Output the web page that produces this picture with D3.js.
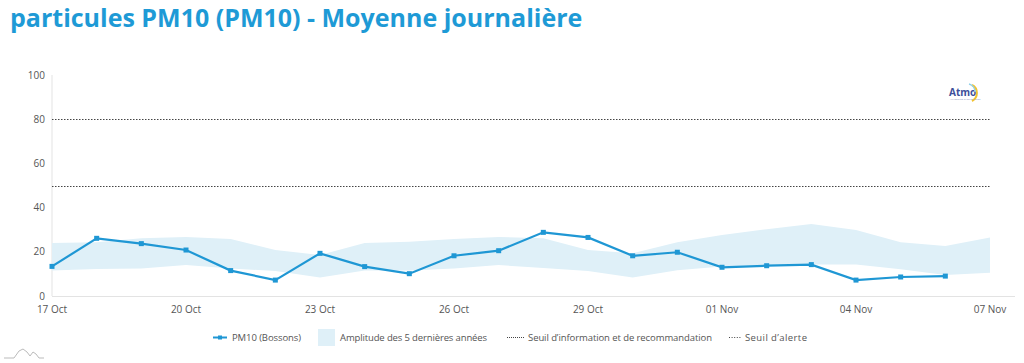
<!DOCTYPE html>
<html><head><meta charset="utf-8">
<script src="https://cdn.jsdelivr.net/npm/d3@7"></script>
<style>
body{margin:0;background:#fff;}
svg{display:block;font-family:"Open Sans",sans-serif;}
</style></head>
<body><svg id="c" width="1024" height="363"></svg>
<script>
const dates = ["2023-10-17","2023-10-18","2023-10-19","2023-10-20","2023-10-21","2023-10-22","2023-10-23","2023-10-24","2023-10-25","2023-10-26","2023-10-27","2023-10-28","2023-10-29","2023-10-30","2023-10-31","2023-11-01","2023-11-02","2023-11-03","2023-11-04","2023-11-05","2023-11-06","2023-11-07"];
const pm10 = [13.4,26.1,23.7,20.8,11.5,7.2,19.3,13.3,10.1,18.2,20.5,28.8,26.5,18.2,19.8,13.0,13.7,14.2,7.2,8.6,9.0];
const bandHigh = [24.0,24.3,26.1,26.7,25.8,20.8,18.5,24.0,24.6,25.8,26.7,26.1,20.8,19.3,24.3,27.6,30.2,32.6,29.9,24.3,22.6,26.5];
const bandLow = [11.5,12.2,12.5,14.0,12.5,11.3,8.4,11.5,11.5,12.5,14.0,12.7,11.3,8.4,11.6,13.3,14.0,14.3,14.3,12.1,9.5,10.5];
const yTicks = [0,20,40,60,80,100];
const xTickLabels = ["17 Oct","20 Oct","23 Oct","26 Oct","29 Oct","01 Nov","04 Nov","07 Nov"];
const thresholds = [80,50];
const legendLabels = ["PM10 (Bossons)","Amplitude des 5 dernières années","Seuil d\u2019information et de recommandation","Seuil d\u2019alerte"];
const title = "particules PM10 (PM10) - Moyenne journalière";

const parse = d3.timeParse("%Y-%m-%d");
const D = dates.map(parse);
const svg = d3.select("#c");
const blue = "#1f97d4", bandCol = "#dff0f8";
const x = d3.scaleTime().domain([D[0], D[D.length-1]]).range([52, 990]);
const y = d3.scaleLinear().domain([0,100]).range([296, 75]);

svg.append("text").attr("x",10).attr("y",27).attr("fill","#1e9ad6")
  .attr("font-size",25).attr("font-weight",700).text(title);

// axes lines
svg.append("line").attr("x1",52).attr("x2",52).attr("y1",75).attr("y2",296).attr("stroke","#e3e3e3");
svg.append("line").attr("x1",52).attr("x2",1015).attr("y1",296.5).attr("y2",296.5).attr("stroke","#e3e3e3");

// y ticks
svg.append("g").selectAll("text").data(yTicks).join("text")
  .attr("x",45).attr("y",d=>y(d)+3.5).attr("text-anchor","end")
  .attr("font-size",10).attr("fill","#555").text(d=>d);

// x ticks
const xt = xTickLabels.map((l,i)=>({l, d: D[i*3]}));
svg.append("g").selectAll("text").data(xt).join("text")
  .attr("x",d=>x(d.d)).attr("y",313).attr("text-anchor","middle")
  .attr("font-size",10).attr("fill","#555").text(d=>d.l);

// band
const area = d3.area().x((d,i)=>x(D[i])).y0((d,i)=>y(bandLow[i])).y1(d=>y(d));
svg.append("path").datum(bandHigh).attr("d",area).attr("fill",bandCol);

// thresholds
svg.append("g").selectAll("line").data(thresholds).join("line")
  .attr("x1",52).attr("x2",990).attr("y1",d=>Math.round(y(d))+0.5).attr("y2",d=>Math.round(y(d))+0.5)
  .attr("stroke","#444").attr("stroke-width",1).attr("stroke-dasharray","1.5,1.5");

// line
const line = d3.line().x((d,i)=>x(D[i])).y(d=>y(d));
svg.append("path").datum(pm10).attr("d",line).attr("fill","none").attr("stroke",blue).attr("stroke-width",2.2);
svg.append("g").selectAll("rect").data(pm10).join("rect")
  .attr("x",(d,i)=>x(D[i])-2.5).attr("y",d=>y(d)-2.5).attr("width",5).attr("height",5).attr("fill",blue);

// logo
const logo = svg.append("g");
logo.append("text").attr("x",949).attr("y",96).attr("font-size",10).attr("font-weight",700).attr("fill","#3c4f9a").text("Atmo");
logo.append("path").attr("d","M972,85 A9,9 0 0 1 972,101").attr("fill","none").attr("stroke","#f2c230").attr("stroke-width",2);
logo.append("path").attr("d","M969,84 A8,8 0 0 1 975,92").attr("fill","none").attr("stroke","#8fd0ea").attr("stroke-width",1.5);
logo.append("text").attr("x",950).attr("y",100).attr("font-size",2.5).attr("fill","#8a94b8").text("AUVERGNE-RHÔNE-ALPES");

// legend
const lg = svg.append("g").attr("font-size",9.5).attr("fill","#555");
lg.append("line").attr("x1",213).attr("x2",227).attr("y1",337.5).attr("y2",337.5).attr("stroke",blue).attr("stroke-width",2);
lg.append("rect").attr("x",218).attr("y",335.5).attr("width",4).attr("height",4).attr("fill",blue);
lg.append("text").attr("x",232).attr("y",341).attr("textLength",69).text(legendLabels[0]);
lg.append("rect").attr("x",318).attr("y",329).attr("width",17).attr("height",17).attr("fill",bandCol);
lg.append("text").attr("x",340).attr("y",341).attr("textLength",147).text(legendLabels[1]);
lg.append("line").attr("x1",507).attr("x2",525).attr("y1",337.5).attr("y2",337.5).attr("stroke","#444").attr("stroke-dasharray","1,1");
lg.append("text").attr("x",528).attr("y",341).attr("textLength",184).text(legendLabels[2]);
lg.append("line").attr("x1",729).attr("x2",742).attr("y1",337.5).attr("y2",337.5).attr("stroke","#444").attr("stroke-dasharray","1,1.6");
lg.append("text").attr("x",745).attr("y",341).attr("textLength",62).text(legendLabels[3]);

// bottom-left mountain icon
svg.append("path").attr("d","M4,358 L14,358 L19,351 L23,349 L27,352 L30,356 L33,352 L36,354 L39,358 L44,358")
  .attr("fill","none").attr("stroke","#bbb").attr("stroke-width",1);
</script></body></html>
